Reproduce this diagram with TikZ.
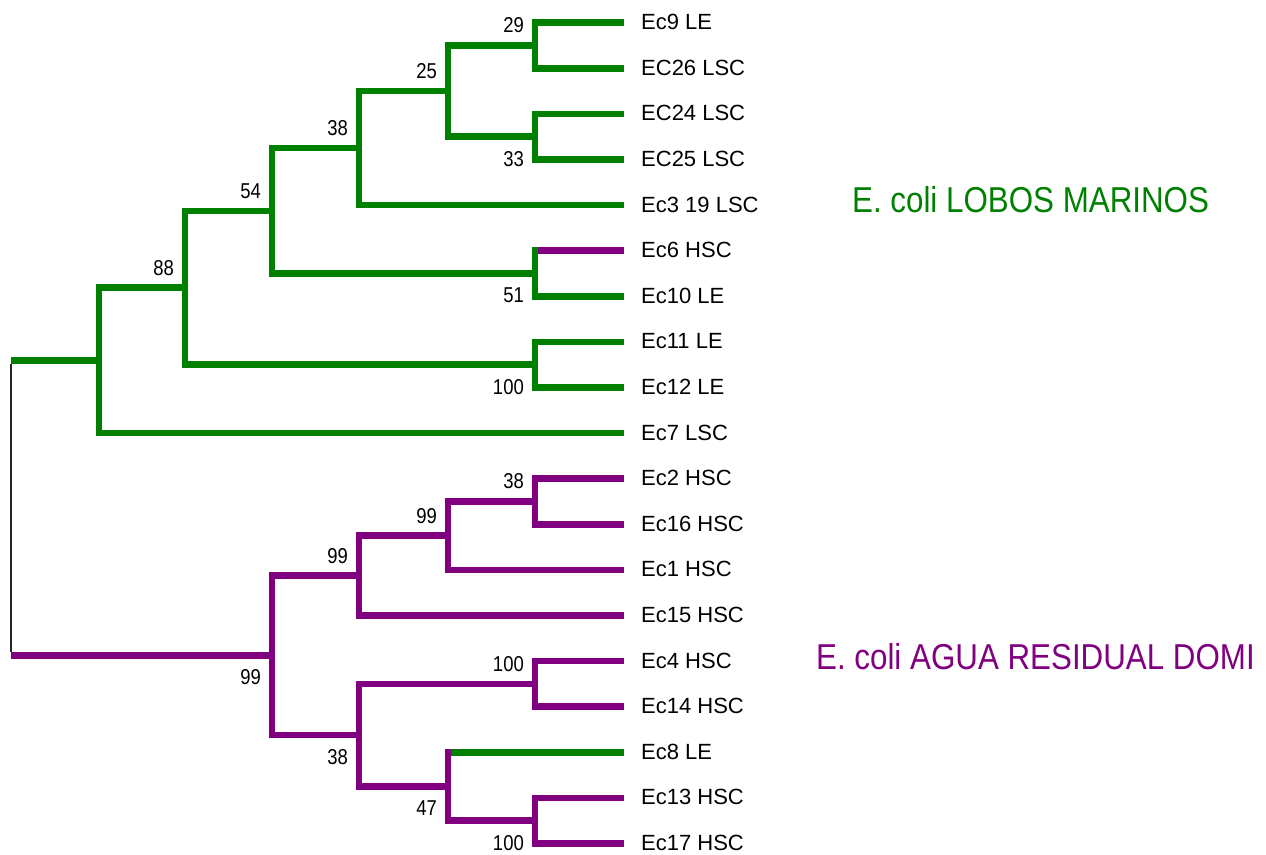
\documentclass[tikz,border=0pt]{standalone}
\usepackage{fontspec}
\setmainfont{Liberation Sans}
\definecolor{tgreen}{RGB}{0,128,0}
\definecolor{tpurple}{RGB}{128,0,128}
\tikzset{
  grn/.style={draw=tgreen,line width=6.5pt},
  pur/.style={draw=tpurple,line width=6.5pt},
  leaf/.style={anchor=base west,inner sep=0pt,font=\fontsize{22}{22}\selectfont},
  num/.style={anchor=east,inner sep=0pt,xscale=0.86,transform shape,font=\fontsize{21.5}{21.5}\selectfont},
  ttl/.style={anchor=base west,inner sep=0pt,xscale=0.87,transform shape,font=\fontsize{36}{36}\selectfont}
}
\begin{document}
\begin{tikzpicture}[x=1pt,y=-1pt]
\useasboundingbox (0,0) rectangle (1266,854);
\fill[white] (0,0) rectangle (1266,854);
% leaf ends and labels
\foreach \i/\t [evaluate=\i as \yy using 22.7+45.6*(\i-1)] in
 {1/Ec9 LE,2/EC26 LSC,3/EC24 LSC,4/EC25 LSC,5/Ec3 19 LSC,6/Ec6 HSC,7/Ec10 LE,8/Ec11 LE,9/Ec12 LE,10/Ec7 LSC,
  11/Ec2 HSC,12/Ec16 HSC,13/Ec1 HSC,14/Ec15 HSC,15/Ec4 HSC,16/Ec14 HSC,17/Ec8 LE,18/Ec13 HSC,19/Ec17 HSC}{
  \coordinate (e\i) at (624,\yy);
  \node[leaf] (l\i) at (641,\yy+7) {\t};
}
% internal nodes
\coordinate (n29) at (535,45.5);
\coordinate (n33) at (535,136.7);
\coordinate (n25) at (448,91.1);
\coordinate (n38) at (359,148.1);
\coordinate (n51) at (535,273.5);
\coordinate (n54) at (272,210.8);
\coordinate (n100a) at (535,364.7);
\coordinate (n88) at (185,287.7);
\coordinate (gA) at (99,360.4);
\coordinate (n38b) at (535,501.5);
\coordinate (n99c) at (448,535.7);
\coordinate (n99b) at (359,575.6);
\coordinate (n100b) at (535,683.9);
\coordinate (n100c) at (535,820.7);
\coordinate (n47) at (448,786.5);
\coordinate (n38c) at (359,735.2);
\coordinate (n99r) at (272,655.4);
\coordinate (rtop) at (11,360.4);
\coordinate (rbot) at (11,655.4);
% green clade
\draw[grn] (e1) -| (n29) |- (e2);
\draw[grn] (e3) -| (n33) |- (e4);
\draw[grn] (n29) -| (n25) |- (n33);
\draw[grn] (n25) -| (n38) |- (e5);
\draw[grn] (e6) -| (n51) |- (e7);
\draw[pur] ([xshift=3.25pt]n51 |- e6) -- (e6);
\draw[grn] (n38) -| (n54) |- (n51);
\draw[grn] (e8) -| (n100a) |- (e9);
\draw[grn] (n54) -| (n88) |- (n100a);
\draw[grn] (n88) -| (gA) |- (e10);
\draw[grn] (rtop) -- (gA);
% purple clade
\draw[pur] (e11) -| (n38b) |- (e12);
\draw[pur] (n38b) -| (n99c) |- (e13);
\draw[pur] (n99c) -| (n99b) |- (e14);
\draw[pur] (e15) -| (n100b) |- (e16);
\draw[pur] (e18) -| (n100c) |- (e19);
\draw[pur] (e17) -| (n47) |- (n100c);
\draw[grn] ([xshift=3.25pt]n47 |- e17) -- (e17);
\draw[pur] (n100b) -| (n38c) |- (n47);
\draw[pur] (n99b) -| (n99r) |- (n38c);
\draw[pur] (rbot) -- (n99r);
% root
\draw[black!85,line width=1.4pt] ([yshift=-3.25pt]rtop) -- ([yshift=3.25pt]rbot);
% bootstrap values
\node[num] (t29) at ([xshift=-11pt,yshift=20pt]n29) {29};
\node[num] (t25) at ([xshift=-11pt,yshift=20pt]n25) {25};
\node[num] (t38) at ([xshift=-11pt,yshift=20pt]n38) {38};
\node[num] (t54) at ([xshift=-11pt,yshift=20pt]n54) {54};
\node[num] (t88) at ([xshift=-11pt,yshift=20pt]n88) {88};
\node[num] (t38b) at ([xshift=-11pt,yshift=20pt]n38b) {38};
\node[num] (t99c) at ([xshift=-11pt,yshift=20pt]n99c) {99};
\node[num] (t99b) at ([xshift=-11pt,yshift=20pt]n99b) {99};
\node[num] (t100b) at ([xshift=-11pt,yshift=20pt]n100b) {100};
\node[num] (t33) at ([xshift=-11pt,yshift=-22pt]n33) {33};
\node[num] (t51) at ([xshift=-11pt,yshift=-22pt]n51) {51};
\node[num] (t100a) at ([xshift=-11pt,yshift=-22pt]n100a) {100};
\node[num] (t100c) at ([xshift=-11pt,yshift=-22pt]n100c) {100};
\node[num] (t47) at ([xshift=-11pt,yshift=-22pt]n47) {47};
\node[num] (t38c) at ([xshift=-11pt,yshift=-22pt]n38c) {38};
\node[num] (t99r) at ([xshift=-11pt,yshift=-22pt]n99r) {99};
% group titles
\node[ttl,text=tgreen] (g1) at (852,212) {E. coli LOBOS MARINOS};
\begin{scope}
\clip (0,0) rectangle (1252,854);
\node[ttl,text=tpurple] (g2) at (816,669) {E. coli AGUA RESIDUAL DOMI};
\end{scope}
\end{tikzpicture}
\end{document}
